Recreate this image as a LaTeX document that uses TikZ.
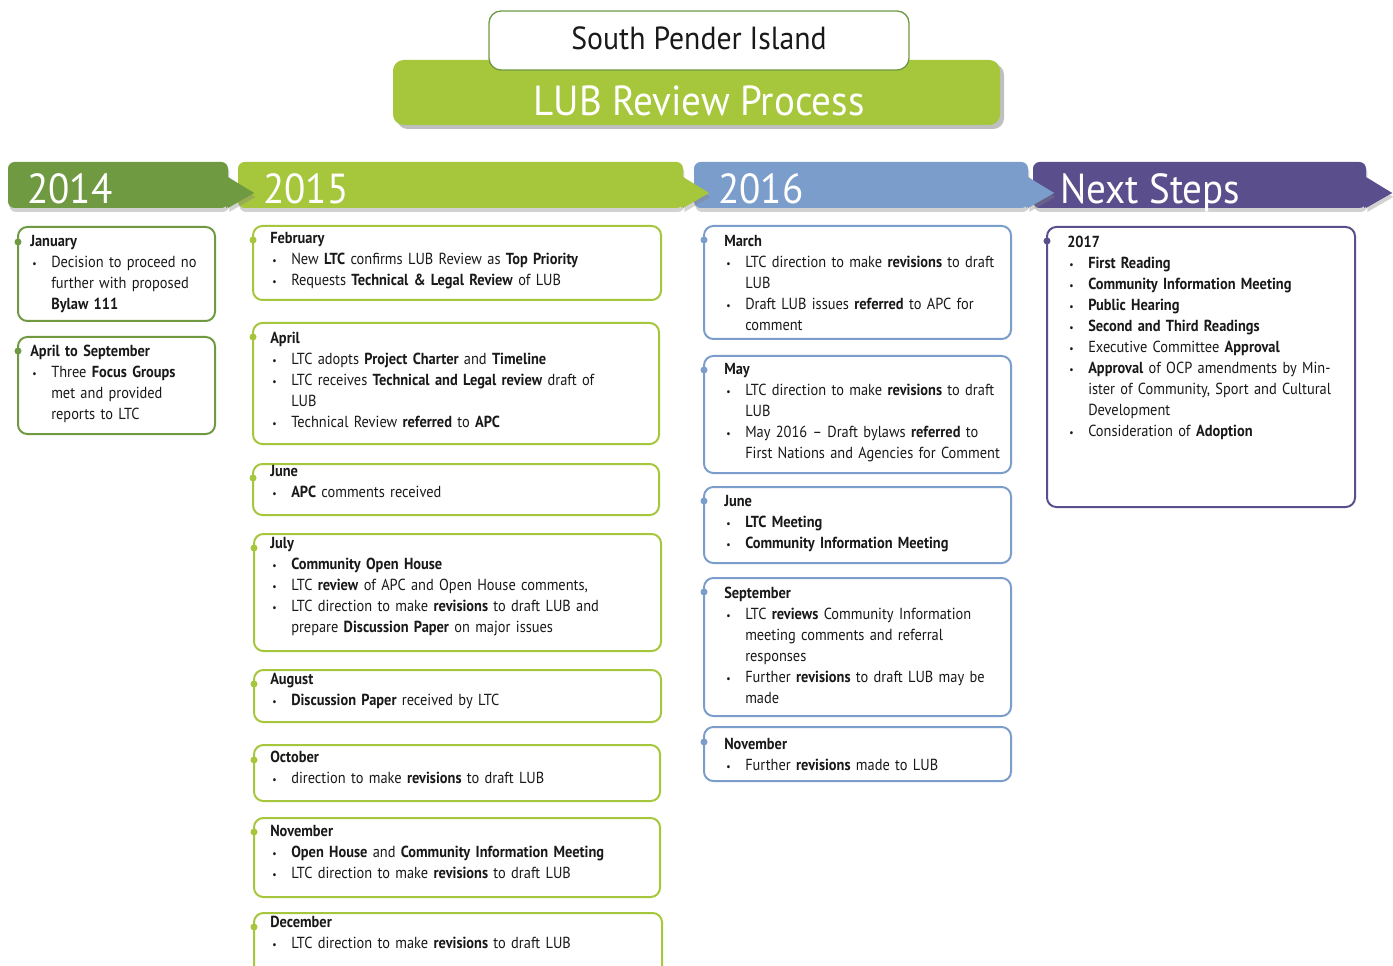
\documentclass[tikz,border=0pt]{standalone}
\usepackage{fontspec}
\setmainfont{PT Sans}[FakeStretch=0.93]
\newfontfamily\bodyfont{PT Sans}[FakeStretch=0.9, WordSpace=0.7, Ligatures=TeX]
\usetikzlibrary{shadows}

\definecolor{yrA}{HTML}{709A42}
\definecolor{yrB}{HTML}{A6C63B}
\definecolor{yrC}{HTML}{7B9DCB}
\definecolor{yrD}{HTML}{5A4F8C}

\newcommand\evfont{\bodyfont\fontsize{12}{15.75}\selectfont}
\newcommand\itm[1]{\hangindent=15.75pt\hangafter=1\noindent
  \hbox to 15.75pt{\hspace{1.5pt}{\fontsize{8}{8}\selectfont\textbullet}\hss}#1\par}
\newcommand\evbox[6]{%
  \draw[evframe=#1] (#2,#3) rectangle (#4,#5);
  \fill[#1] (#2,#6) circle (3.5);}
\newcommand\yearbanner[3]{%
  \fill[#1, drop shadow={shadow xshift=1pt, shadow yshift=-3pt, opacity=.35}]
    (#3+26,193) -- (#3,177) -- (#3,208) -- cycle;
  \fill[#1, rounded corners=5pt, drop shadow={shadow xshift=1pt, shadow yshift=-3pt, opacity=.35}]
    (#2,162) rectangle (#3,208);
  \fill[#1] (#3+26,193) -- (#3-2,177) -- (#3-2,208) -- cycle;}

\tikzset{
  yeartext/.style={anchor=base west, inner sep=0pt, text=white, font=\fontsize{31.5}{31.5}\selectfont},
  evframe/.style={draw=#1, line width=1.5pt, rounded corners=7pt},
  evtext/.style={anchor=north west, inner sep=0pt, align=left, text width=#1, font=\evfont, text=black!90},
}

\begin{document}
\begin{tikzpicture}[x=0.75pt, y=-0.75pt]
\useasboundingbox (0,0) rectangle (1393,966);
\clip (0,0) rectangle (1393,966);
\fill[white] (0,0) rectangle (1393,966);

% title
\fill[yrB, rounded corners=8pt, drop shadow={shadow xshift=3pt, shadow yshift=-3pt, opacity=.5}] (393,60) rectangle (1000,125);
\node[anchor=base, inner sep=0pt, text=white, font=\fontsize{31.5}{31.5}\selectfont] (process) at (699,116) {LUB Review Process};
\draw[yrA, fill=white, line width=1pt, rounded corners=9pt] (489,11) rectangle (909,70);
\node[anchor=base, inner sep=0pt, text=black!90, font=\fontsize{24}{24}\selectfont] (island) at (699,50) {South Pender Island};

% year banners, right to left so each tip lies on the next one
\yearbanner{yrD}{1033}{1366}
\yearbanner{yrC}{694}{1028}
\yearbanner{yrB}{238}{683}
\yearbanner{yrA}{8}{228}
\node[yeartext] (ynext) at (1060,204) {Next Steps};
\node[yeartext] (y2016) at (718,204) {2016};
\node[yeartext] (y2015) at (263,204) {2015};
\node[yeartext] (y2014) at (27,204) {2014};

% 2014
\evbox{yrA}{18}{227}{215}{321}{242}
\node[evtext=140pt] (jan14) at (30,235) {\textbf{January}\par
  \itm{Decision to proceed no\newline further with proposed\newline \textbf{Bylaw 111}}};
\evbox{yrA}{18}{337}{215}{434}{351}
\node[evtext=140pt] (aprsep14) at (30,345) {\textbf{April to September}\par
  \itm{Three \textbf{Focus Groups}\newline met and provided\newline reports to LTC}};

% 2015
\evbox{yrB}{253}{226}{661}{300}{240}
\node[evtext=292pt] (feb15) at (270,232) {\textbf{February}\par
  \itm{New \textbf{LTC} confirms LUB Review as \textbf{Top Priority}}
  \itm{Requests \textbf{Technical \& Legal Review} of LUB}};
\evbox{yrB}{253}{323}{659}{444}{337}
\node[evtext=292pt] (apr15) at (270,332) {\textbf{April}\par
  \itm{LTC adopts \textbf{Project Charter} and \textbf{Timeline}}
  \itm{LTC receives \textbf{Technical and Legal review} draft of\newline LUB}
  \itm{Technical Review \textbf{referred} to \textbf{APC}}};
\evbox{yrB}{253}{464}{659}{515}{478}
\node[evtext=292pt] (jun15) at (270,465) {\textbf{June}\par
  \itm{\textbf{APC} comments received}};
\evbox{yrB}{254}{534}{661}{651}{548}
\node[evtext=292pt] (jul15) at (270,537) {\textbf{July}\par
  \itm{\textbf{Community Open House}}
  \itm{LTC \textbf{review} of APC and Open House comments,}
  \itm{LTC direction to make \textbf{revisions} to draft LUB and\newline prepare \textbf{Discussion Paper} on major issues}};
\evbox{yrB}{254}{670}{661}{722}{684}
\node[evtext=292pt] (aug15) at (270,673) {\textbf{August}\par
  \itm{\textbf{Discussion Paper} received by LTC}};
\evbox{yrB}{254}{745}{660}{801}{760}
\node[evtext=292pt] (oct15) at (270,751) {\textbf{October}\par
  \itm{direction to make \textbf{revisions} to draft LUB}};
\evbox{yrB}{254}{818}{660}{897}{832}
\node[evtext=292pt] (nov15) at (270,825) {\textbf{November}\par
  \itm{\textbf{Open House} and \textbf{Community Information Meeting}}
  \itm{LTC direction to make \textbf{revisions} to draft LUB}};
\evbox{yrB}{254}{913}{662}{1000}{927}
\node[evtext=292pt] (dec15) at (270,916) {\textbf{December}\par
  \itm{LTC direction to make \textbf{revisions} to draft LUB}};

% 2016
\evbox{yrC}{704}{226}{1011}{339}{240}
\node[evtext=216pt] (mar16) at (724,235) {\textbf{March}\par
  \itm{LTC direction to make \textbf{revisions} to draft\newline LUB}
  \itm{Draft LUB issues \textbf{referred} to APC for\newline comment}};
\evbox{yrC}{704}{356}{1011}{473}{370}
\node[evtext=216pt] (may16) at (724,363) {\textbf{May}\par
  \itm{LTC direction to make \textbf{revisions} to draft\newline LUB}
  \itm{May 2016 \textendash{} Draft bylaws \textbf{referred} to\newline First Nations and Agencies for Comment}};
\evbox{yrC}{704}{487}{1011}{563}{501}
\node[evtext=216pt] (jun16) at (724,495) {\textbf{June}\par
  \itm{\textbf{LTC Meeting}}
  \itm{\textbf{Community Information Meeting}}};
\evbox{yrC}{704}{578}{1011}{716}{592}
\node[evtext=216pt] (sep16) at (724,587) {\textbf{September}\par
  \itm{LTC \textbf{reviews} Community Information\newline meeting comments and referral\newline responses}
  \itm{Further \textbf{revisions} to draft LUB may be\newline made}};
\evbox{yrC}{704}{727}{1011}{781}{742}
\node[evtext=216pt] (nov16) at (724,738) {\textbf{November}\par
  \itm{Further \textbf{revisions} made to LUB}};

% next steps
\evbox{yrD}{1047}{227}{1355}{507}{241}
\node[evtext=216pt] (next17) at (1067,236) {\textbf{2017}\par
  \itm{\textbf{First Reading}}
  \itm{\textbf{Community Information Meeting}}
  \itm{\textbf{Public Hearing}}
  \itm{\textbf{Second and Third Readings}}
  \itm{Executive Committee \textbf{Approval}}
  \itm{\textbf{Approval} of OCP amendments by Min-\newline ister of Community, Sport and Cultural\newline Development}
  \itm{Consideration of \textbf{Adoption}}};
\end{tikzpicture}
\end{document}
